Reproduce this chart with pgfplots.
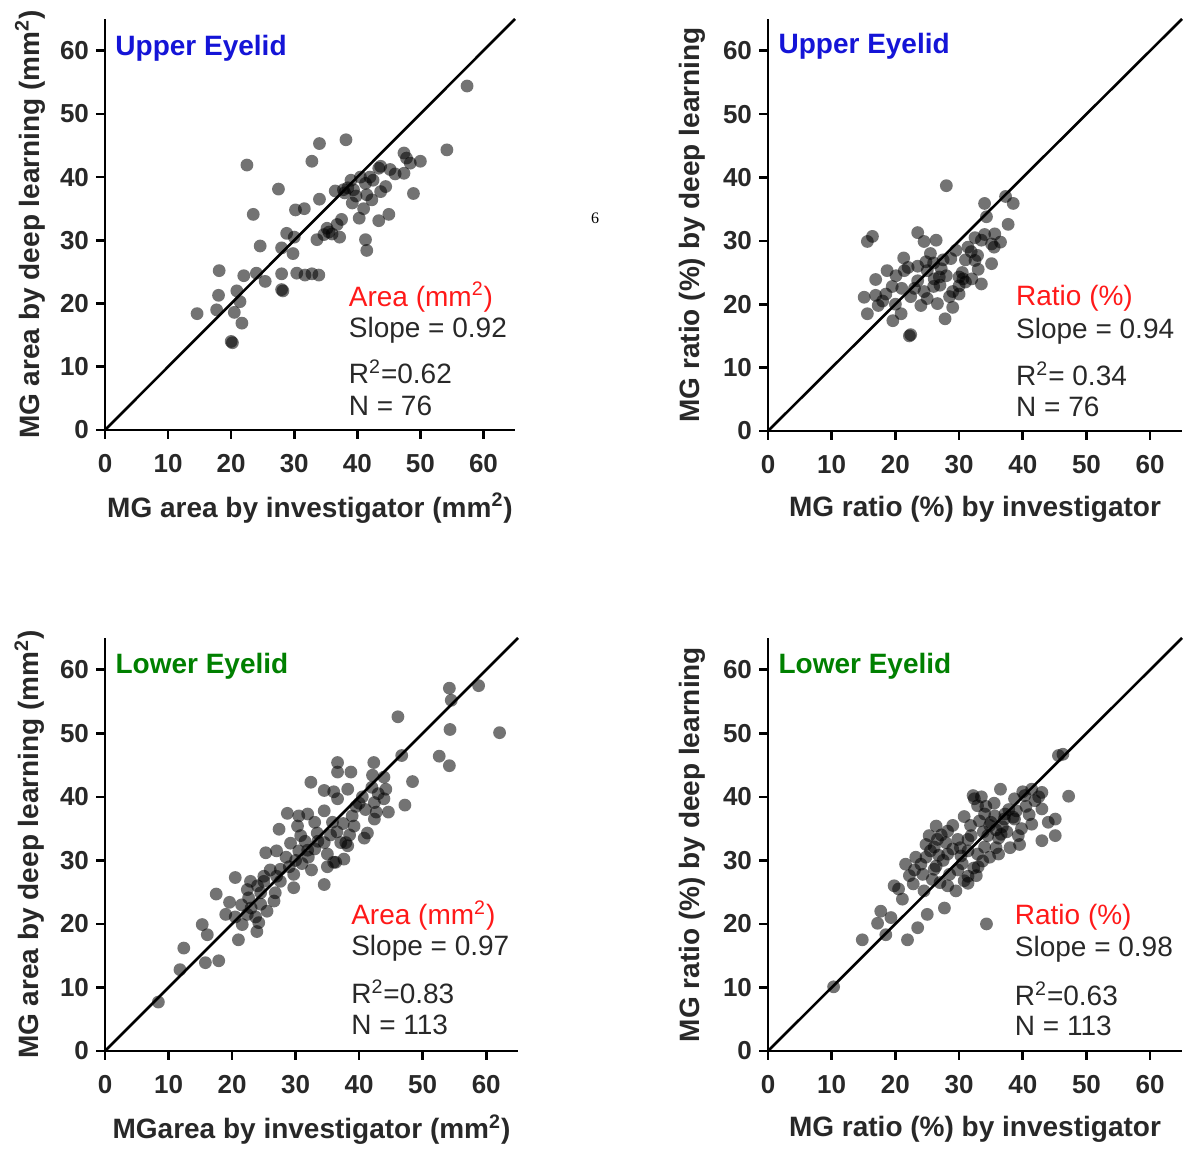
\documentclass[border=0pt]{standalone}
\usepackage{fontspec}
\setmainfont{Liberation Sans}
\newfontfamily\seriffont{Liberation Serif}
\usepackage{pgfplots}
\pgfplotsset{compat=1.18}

\definecolor{lblblue}{RGB}{20,20,215}
\definecolor{lblgreen}{RGB}{0,128,0}
\definecolor{lblred}{RGB}{255,25,25}
\definecolor{txt}{RGB}{40,40,40}

\tikzset{
 ann/.style={anchor=west, font=\fontsize{14}{16}\selectfont, text=txt, inner sep=0pt},
 ttl/.style={anchor=west, font=\fontsize{14}{16}\selectfont\bfseries, inner sep=0pt},
}
\pgfplotsset{
 panel/.style={
  scale only axis,
  xmin=0,xmax=65,ymin=0,ymax=65,
  axis x line*=bottom, axis y line*=left,
  axis line style={line width=1.3pt, -},
  xtick={0,10,...,60}, ytick={0,10,...,60},
  tick align=outside, major tick length=4.5pt,
  every tick/.style={black, line width=1.3pt},
  /pgf/number format/assume math mode=true,
  tick label style={font=\fontsize{13}{15}\selectfont\bfseries, text=txt},
  xticklabel style={yshift=-4pt},
  label style={font=\fontsize{14}{16}\selectfont\bfseries, text=txt},
  xlabel style={at={(axis description cs:0.5,-0.19)}, anchor=center},
  ylabel style={at={(axis description cs:-0.183,0.5)}, anchor=center},
  clip=false,
 },
 pts/.style={only marks, mark=*, mark size=3.2pt, color=black, mark options={fill=black, fill opacity=0.55, draw opacity=0}},
}

\begin{document}
\begin{tikzpicture}
\path[use as bounding box] (0,0) rectangle (598.5pt,574.5pt);
\node[font=\seriffont\fontsize{8}{9}\selectfont] at (297.5pt,465.5pt) {6};

% ---------- Panel 1 ----------
\begin{axis}[panel, at={(52.5pt,359.5pt)}, anchor=south west, width=205pt, height=205.5pt,
  xlabel={MG area by investigator (mm\textsuperscript{2})},
  ylabel={MG area by deep learning (mm\textsuperscript{2})}]
\addplot[black, line width=1.3pt] coordinates {(0,0) (65,65)};
\addplot[pts] table {
x y
22.5 41.9
34.0 45.3
38.2 45.9
32.8 42.5
27.5 38.1
23.5 34.1
30.2 34.8
31.6 35.0
34.0 36.5
37.8 38.0
39.4 38.0
41.5 37.2
41.3 39.0
43.4 41.4
45.2 41.2
47.4 43.8
48.4 42.2
47.4 40.6
48.9 37.4
43.7 37.7
42.3 36.4
39.2 35.9
37.5 33.3
40.3 33.5
43.4 33.1
45.0 34.1
35.2 31.9
34.7 30.9
33.6 30.1
37.2 30.5
41.3 30.1
41.5 28.4
28.8 31.1
28.0 28.8
29.8 27.9
24.6 29.1
18.1 25.2
22.0 24.4
24.0 24.8
25.4 23.5
28.0 24.7
30.4 24.8
31.7 24.5
32.8 24.7
33.9 24.5
28.2 22.0
28.0 22.2
18.0 21.3
20.9 22.0
21.4 20.3
17.7 19.0
20.5 18.6
14.6 18.4
21.7 16.9
20.0 14.0
20.2 13.8
54.2 44.3
57.4 54.4
43.7 41.7
40.5 40.0
39.0 39.5
38.5 38.3
36.5 37.8
36.8 32.5
35.5 31.3
36.0 31.0
42.0 40.0
44.5 38.5
46.0 40.5
47.8 43.0
30.0 30.5
38.0 37.5
41.0 35.0
39.8 37.0
42.5 39.5
50.0 42.5
};
\node[ttl, text=lblblue] at (axis cs:1.6,60.3) {Upper Eyelid};
\node[ann, text=lblred] at (axis cs:38.6,21.0) {Area (mm\textsuperscript{2})};
\node[ann] at (axis cs:38.6,15.8) {Slope = 0.92};
\node[ann] at (axis cs:38.6,9.2) {R\textsuperscript{2}=0.62};
\node[ann] at (axis cs:38.6,3.8) {N = 76};
\end{axis}

% ---------- Panel 2 ----------
\begin{axis}[panel, at={(384pt,359pt)}, anchor=south west, width=207pt, height=206pt,
  xlabel={MG ratio (\%) by investigator},
  ylabel={MG ratio (\%) by deep learning}]
\addplot[black, line width=1.3pt] coordinates {(0,0) (65,65)};
\addplot[pts] table {
x y
28.0 38.7
34.0 35.9
38.5 35.9
37.3 37.0
37.7 32.6
34.3 33.8
15.6 29.9
16.4 30.7
23.5 31.3
24.5 29.9
26.4 30.1
21.3 27.3
24.8 26.7
18.7 25.3
20.1 24.5
21.4 25.3
16.9 23.9
15.1 21.1
16.9 21.4
18.5 21.6
17.3 19.8
15.6 18.5
19.6 17.4
20.9 18.5
22.2 15.0
22.4 15.2
27.8 17.7
22.4 21.2
24.0 19.8
25.0 20.9
26.6 20.1
28.5 21.2
30.0 21.6
30.0 22.9
30.6 24.0
26.1 24.0
26.9 24.3
23.5 23.7
25.0 25.3
27.2 25.6
28.7 27.2
31.4 29.0
31.9 28.3
32.9 27.7
33.5 30.1
35.6 31.1
35.1 26.4
33.5 23.2
32.5 26.9
35.1 29.5
22.0 25.8
23.0 22.5
24.5 22.0
26.0 22.8
27.0 23.0
28.0 24.5
29.0 22.0
30.5 25.0
31.0 23.5
32.0 24.0
33.0 25.5
27.5 27.0
26.0 26.5
29.5 28.5
31.0 27.0
32.5 30.5
34.0 31.0
35.5 29.0
36.5 29.8
21.0 22.5
19.5 22.8
18.0 20.5
20.0 20.0
23.5 26.0
25.5 28.0
29.0 19.5
30.0 24.3
};
\node[ttl, text=lblblue] at (axis cs:1.6,60.7) {Upper Eyelid};
\node[ann, text=lblred] at (axis cs:38.9,21.0) {Ratio (\%)};
\node[ann] at (axis cs:38.9,15.8) {Slope = 0.94};
\node[ann] at (axis cs:38.9,9.0) {R\textsuperscript{2}= 0.34};
\node[ann] at (axis cs:38.9,3.8) {N = 76};
\end{axis}

% ---------- Panel 3 ----------
\begin{axis}[panel, at={(52.5pt,49pt)}, anchor=south west, width=206.5pt, height=206.5pt,
  xlabel={MGarea by investigator (mm\textsuperscript{2})},
  ylabel={MG area by deep learning (mm\textsuperscript{2})}]
\addplot[black, line width=1.3pt] coordinates {(0,0) (65,65)};
\addplot[pts] table {
x y
36.6 45.4
36.6 43.9
38.7 43.9
32.4 42.3
34.5 41.0
38.2 41.2
36.6 39.7
28.7 37.4
30.5 37.0
31.9 37.3
34.5 37.8
38.9 37.0
39.2 35.4
27.4 34.9
30.3 35.4
35.8 36.0
30.8 33.9
29.2 32.7
33.4 34.3
34.5 32.8
37.1 32.8
38.2 32.3
25.3 31.2
31.9 31.6
35.0 31.0
36.0 29.7
37.6 30.2
27.6 28.6
29.7 27.8
25.0 27.5
20.5 27.3
22.9 26.7
25.0 26.7
27.6 26.7
29.7 25.7
34.5 26.2
22.4 25.4
24.5 24.9
26.8 24.9
17.5 24.7
19.6 23.4
22.6 24.1
24.5 23.1
26.6 23.6
20.5 21.1
22.4 21.5
23.7 21.1
21.6 19.9
24.2 20.2
23.9 18.8
15.3 19.9
16.1 18.3
21.0 17.5
12.4 16.2
15.8 13.9
17.9 14.2
11.8 12.8
8.4 7.7
54.2 57.1
58.8 57.5
54.5 55.2
46.1 52.6
54.3 50.6
62.1 50.1
46.7 46.5
52.6 46.4
54.2 44.9
42.3 45.4
42.1 43.4
48.4 42.4
43.9 43.1
44.2 41.2
40.0 39.0
42.4 39.1
43.9 39.7
47.2 38.7
42.7 37.6
44.6 37.6
42.4 36.5
41.3 34.3
40.8 33.5
37.9 32.8
36.3 29.7
32.0 30.5
33.0 31.8
31.0 29.5
30.0 30.0
28.5 30.5
27.0 27.5
26.0 28.5
33.5 33.0
35.5 34.0
36.5 34.5
39.5 38.5
40.5 40.0
41.0 38.0
43.0 40.5
37.5 35.8
29.0 29.0
24.0 26.0
21.5 23.0
19.0 21.5
23.0 22.5
33.0 36.0
31.5 33.0
35.0 29.0
38.5 34.0
27.0 31.5
32.5 28.5
42.0 41.5
36.0 40.8
30.5 31.5
25.5 22.0
};
\node[ttl, text=lblgreen] at (axis cs:1.6,60.5) {Lower Eyelid};
\node[ann, text=lblred] at (axis cs:38.7,21.3) {Area (mm\textsuperscript{2})};
\node[ann] at (axis cs:38.7,16.1) {Slope = 0.97};
\node[ann] at (axis cs:38.7,9.3) {R\textsuperscript{2}=0.83};
\node[ann] at (axis cs:38.7,4.1) {N = 113};
\end{axis}

% ---------- Panel 4 ----------
\begin{axis}[panel, at={(384pt,49pt)}, anchor=south west, width=207pt, height=206.5pt,
  xlabel={MG ratio (\%) by investigator},
  ylabel={MG ratio (\%) by deep learning}]
\addplot[black, line width=1.3pt] coordinates {(0,0) (65,65)};
\addplot[pts] table {
x y
45.6 46.5
46.3 46.7
36.5 41.2
32.2 40.2
32.4 39.7
32.9 38.6
38.7 39.7
40.3 40.2
41.4 41.2
43.0 40.7
41.9 39.4
43.0 38.1
45.1 36.5
45.1 33.9
43.0 33.1
41.4 35.7
38.7 36.5
37.1 36.5
34.0 37.3
35.6 37.0
30.8 36.9
36.6 34.1
39.3 33.9
39.5 32.5
34.5 33.9
34.0 32.1
32.9 31.0
33.7 29.9
31.4 31.5
31.4 33.3
31.9 33.9
29.8 33.3
28.2 34.6
26.4 35.4
25.3 33.9
26.6 33.3
27.9 32.8
26.1 32.1
28.2 31.0
30.3 30.7
24.8 30.5
23.2 30.5
21.6 29.4
24.0 29.4
26.4 29.1
22.2 27.6
24.3 27.8
26.1 28.6
28.5 27.8
31.4 27.5
32.7 27.6
31.4 26.4
28.2 26.0
29.5 25.2
24.5 25.2
21.1 23.9
27.7 22.5
25.0 21.5
17.7 22.0
19.3 21.0
17.2 20.1
23.5 19.4
21.9 17.5
18.5 18.3
14.8 17.5
34.3 20.0
36.8 35.3
10.3 10.1
47.2 40.1
35.0 36.0
35.8 34.8
36.2 33.5
37.5 34.5
34.8 35.5
33.2 36.2
34.2 38.5
35.5 39.0
33.5 40.0
37.8 38.0
39.0 37.8
40.5 38.5
42.5 40.0
41.0 37.2
44.0 36.0
39.8 35.0
38.0 32.0
36.2 31.0
34.8 30.5
33.0 29.0
30.5 29.5
29.0 31.8
27.5 30.0
26.8 30.8
25.5 31.5
24.8 32.5
27.2 34.0
29.0 35.5
30.2 32.0
31.8 35.5
23.0 28.5
25.8 27.0
27.0 26.5
29.8 28.5
30.8 26.8
32.3 28.8
20.5 25.5
22.8 26.3
19.8 26.0
35.8 32.0
38.5 36.8
40.0 40.8
37.2 37.3
33.8 34.5
};
\node[ttl, text=lblgreen] at (axis cs:1.6,60.6) {Lower Eyelid};
\node[ann, text=lblred] at (axis cs:38.7,21.0) {Ratio (\%)};
\node[ann] at (axis cs:38.7,15.95) {Slope = 0.98};
\node[ann] at (axis cs:38.7,9.0) {R\textsuperscript{2}=0.63};
\node[ann] at (axis cs:38.7,3.9) {N = 113};
\end{axis}
\end{tikzpicture}
\end{document}
